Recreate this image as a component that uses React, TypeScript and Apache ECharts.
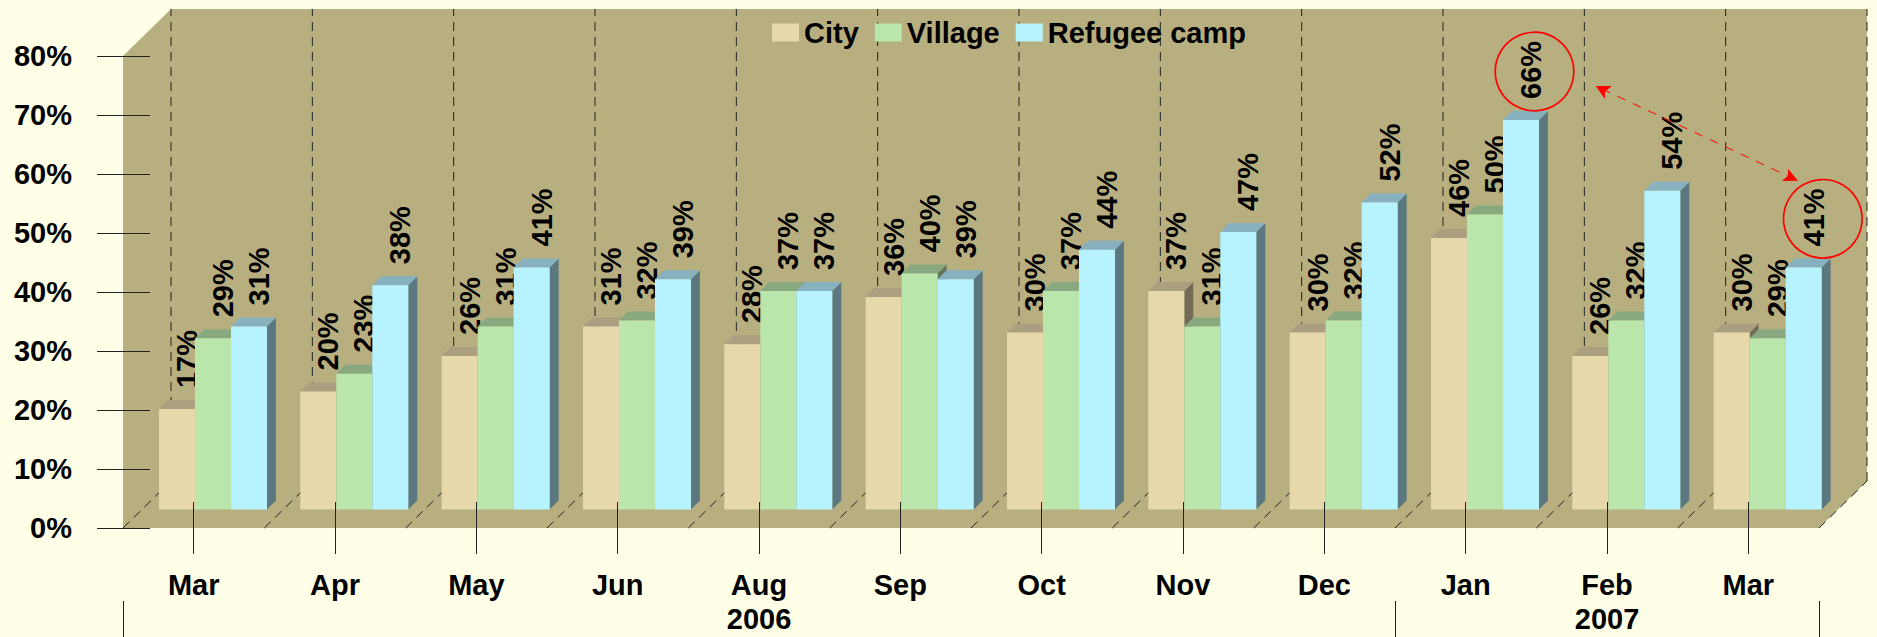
import React, { useEffect, useRef } from "react";
import * as echarts from "echarts";

const months = ["Mar", "Apr", "May", "Jun", "Aug", "Sep", "Oct", "Nov", "Dec", "Jan", "Feb", "Mar"];
const yearLabels = ["2006", "2007"];
const yearLabelCenters = [4.5, 10.5];
const yearBoundaries = [0, 9, 12];
const city = [17, 20, 26, 31, 28, 36, 30, 37, 30, 46, 26, 30];
const village = [29, 23, 31, 32, 37, 40, 37, 31, 32, 50, 32, 29];
const refugeeCamp = [31, 38, 41, 39, 37, 39, 44, 47, 52, 66, 54, 41];

const FONT = '"Liberation Sans", Arial, sans-serif';
const WALL = "#B8AF80";
const BG = "#FFFFE8";
const LINE = "#222222";
const RED = "#FF0000";

const BAR_W = 36;
const DEPTH = 9;
const FLOOR_DX = 19.3;
const FLOOR_DY = -18.6;
const WALL_DX = 48;
const WALL_DY = -47;

const faces = [
  { name: "City", values: city, front: "#E6D8AB", top: "#AB9F80", side: "#736C56" },
  { name: "Village", values: village, front: "#BAE6AC", top: "#88A97F", side: "#5F7355" },
  { name: "Refugee camp", values: refugeeCamp, front: "#B6F3FF", top: "#87B1BF", side: "#5B7880" },
];

function barSeries(s: number) {
  const f = faces[s];
  return {
    type: "custom",
    name: f.name,
    xAxisIndex: 0,
    yAxisIndex: 0,
    z: 5 + s,
    clip: false,
    silent: true,
    itemStyle: { color: f.front },
    encode: { x: 0, y: 1 },
    data: f.values.map((v, i) => [i, v]),
    renderItem(_p: any, api: any) {
      const i = api.value(0);
      const v = api.value(1);
      const [cx, y0] = api.coord([i, 0]);
      const yv = api.coord([i, v])[1];
      const l = cx + FLOOR_DX - 1.5 * BAR_W + s * BAR_W;
      const r = l + BAR_W;
      const b = y0 + FLOOR_DY;
      const t = yv + FLOOR_DY;
      const poly = (points: number[][], fill: string) => ({
        type: "polygon",
        shape: { points },
        style: { fill, stroke: "none" },
      });
      return {
        type: "group",
        children: [
          poly([[r, t], [r + DEPTH, t - DEPTH], [r + DEPTH, b - DEPTH], [r, b]], f.side),
          poly([[l, t], [l + DEPTH, t - DEPTH], [r + DEPTH, t - DEPTH], [r, t]], f.top),
          { type: "rect", shape: { x: l, y: t, width: BAR_W, height: b - t }, style: { fill: f.front, stroke: "none" } },
          {
            type: "text",
            x: (l + r) / 2 + 10,
            y: t - 21,
            rotation: Math.PI / 2,
            style: {
              text: v + "%",
              fill: "#000000",
              font: `bold 29px ${FONT}`,
              align: "left",
              verticalAlign: "middle",
            },
          },
        ],
      };
    },
  };
}

const backdrop = {
  type: "custom",
  xAxisIndex: 0,
  yAxisIndex: 0,
  z: 1,
  clip: false,
  silent: true,
  data: [[0, 0]],
  encode: { x: 0, y: 1 },
  renderItem(params: any) {
    const { x, y, width, height } = params.coordSys;
    const fb = y + height;
    const step = width / months.length;
    const dashed = { stroke: LINE, lineWidth: 1, lineDash: [9, 6] };
    const children: any[] = [
      {
        type: "polygon",
        shape: {
          points: [
            [x, fb],
            [x, y],
            [x + WALL_DX, y + WALL_DY],
            [x + width + WALL_DX, y + WALL_DY],
            [x + width + WALL_DX, fb + WALL_DY],
            [x + width, fb],
          ],
        },
        style: { fill: WALL, stroke: "none" },
      },
    ];
    for (let k = 0; k <= months.length; k++) {
      const px = x + k * step;
      children.push({
        type: "line",
        shape: { x1: px + WALL_DX, y1: fb + WALL_DY, x2: px + WALL_DX, y2: y + WALL_DY },
        style: dashed,
      });
      children.push({
        type: "line",
        shape: { x1: px, y1: fb, x2: px + WALL_DX, y2: fb + WALL_DY },
        style: dashed,
      });
    }
    return { type: "group", children };
  },
};

function arrowHead(points: number[][]) {
  return { type: "polygon", z: 50, shape: { points }, style: { fill: RED, stroke: "none" } };
}

const option: any = {
  animation: false,
  backgroundColor: BG,
  textStyle: { fontFamily: FONT },
  grid: { left: 123, top: 56, width: 1696, height: 472, containLabel: false },
  legend: {
    show: true,
    left: 772,
    top: 18,
    padding: 0,
    orient: "horizontal",
    itemWidth: 27,
    itemHeight: 18,
    itemGap: 16,
    icon: "rect",
    z: 20,
    data: faces.map((f) => f.name),
    textStyle: { fontFamily: FONT, fontWeight: "bold", fontSize: 29, color: "#000" },
  },
  xAxis: [
    {
      type: "category",
      data: months,
      position: "bottom",
      z: 30,
      axisLine: { show: false },
      axisTick: { show: true, alignWithLabel: true, length: 26, lineStyle: { color: LINE, width: 1 } },
      axisLabel: { show: true, interval: 0, margin: 42, color: "#000", fontFamily: FONT, fontWeight: "bold", fontSize: 29 },
      splitLine: { show: false },
    },
    {
      type: "category",
      data: months,
      position: "bottom",
      z: 30,
      axisLine: { show: false },
      axisTick: { show: true, inside: true, alignWithLabel: true, length: 26, lineStyle: { color: LINE, width: 1 } },
      axisLabel: { show: false },
      splitLine: { show: false },
    },
    {
      type: "value",
      min: 0,
      max: months.length,
      position: "bottom",
      offset: 73,
      z: 30,
      axisLine: { show: false },
      splitLine: { show: false },
      axisTick: { show: true, length: 36, customValues: yearBoundaries, lineStyle: { color: LINE, width: 1 } },
      axisLabel: {
        show: true,
        margin: 3,
        customValues: yearLabelCenters,
        formatter: (v: number) => yearLabels[yearLabelCenters.indexOf(v)],
        color: "#000",
        fontFamily: FONT,
        fontWeight: "bold",
        fontSize: 29,
      },
    },
  ],
  yAxis: [
    {
      type: "value",
      min: 0,
      max: 80,
      interval: 10,
      z: 3,
      axisLine: { show: false },
      splitLine: { show: false },
      axisTick: { show: true, length: 26, lineStyle: { color: LINE, width: 1 } },
      axisLabel: { show: true, margin: 51, formatter: "{value}%", color: "#000", fontFamily: FONT, fontWeight: "bold", fontSize: 29 },
    },
    {
      type: "value",
      min: 0,
      max: 80,
      interval: 10,
      position: "left",
      z: 3,
      axisLine: { show: false },
      splitLine: { show: false },
      axisTick: { show: true, inside: true, length: 27, lineStyle: { color: LINE, width: 1 } },
      axisLabel: { show: false },
    },
  ],
  series: [backdrop, barSeries(0), barSeries(1), barSeries(2)],
  graphic: [
    { type: "circle", z: 50, shape: { cx: 1534.5, cy: 71.5, r: 39.3 }, style: { fill: "none", stroke: RED, lineWidth: 1.7 } },
    { type: "circle", z: 50, shape: { cx: 1822.8, cy: 218.8, r: 39.3 }, style: { fill: "none", stroke: RED, lineWidth: 1.7 } },
    {
      type: "line",
      z: 50,
      shape: { x1: 1602, y1: 89, x2: 1792, y2: 178 },
      style: { stroke: RED, lineWidth: 1, lineDash: [9, 8] },
    },
    arrowHead([[1595.7, 86], [1611.7, 86], [1605, 91.7], [1605, 99]]),
    arrowHead([[1798, 180.7], [1782, 181], [1788, 175.7], [1788, 168.7]]),
  ],
};

export default function App() {
  const ref = useRef<HTMLDivElement>(null);
  useEffect(() => {
    const chart = echarts.init(ref.current!, undefined, { renderer: "svg" });
    chart.setOption(option);
    return () => chart.dispose();
  }, []);
  return <div ref={ref} style={{ position: "fixed", left: 0, top: 0, width: 1877, height: 637 }} />;
}
